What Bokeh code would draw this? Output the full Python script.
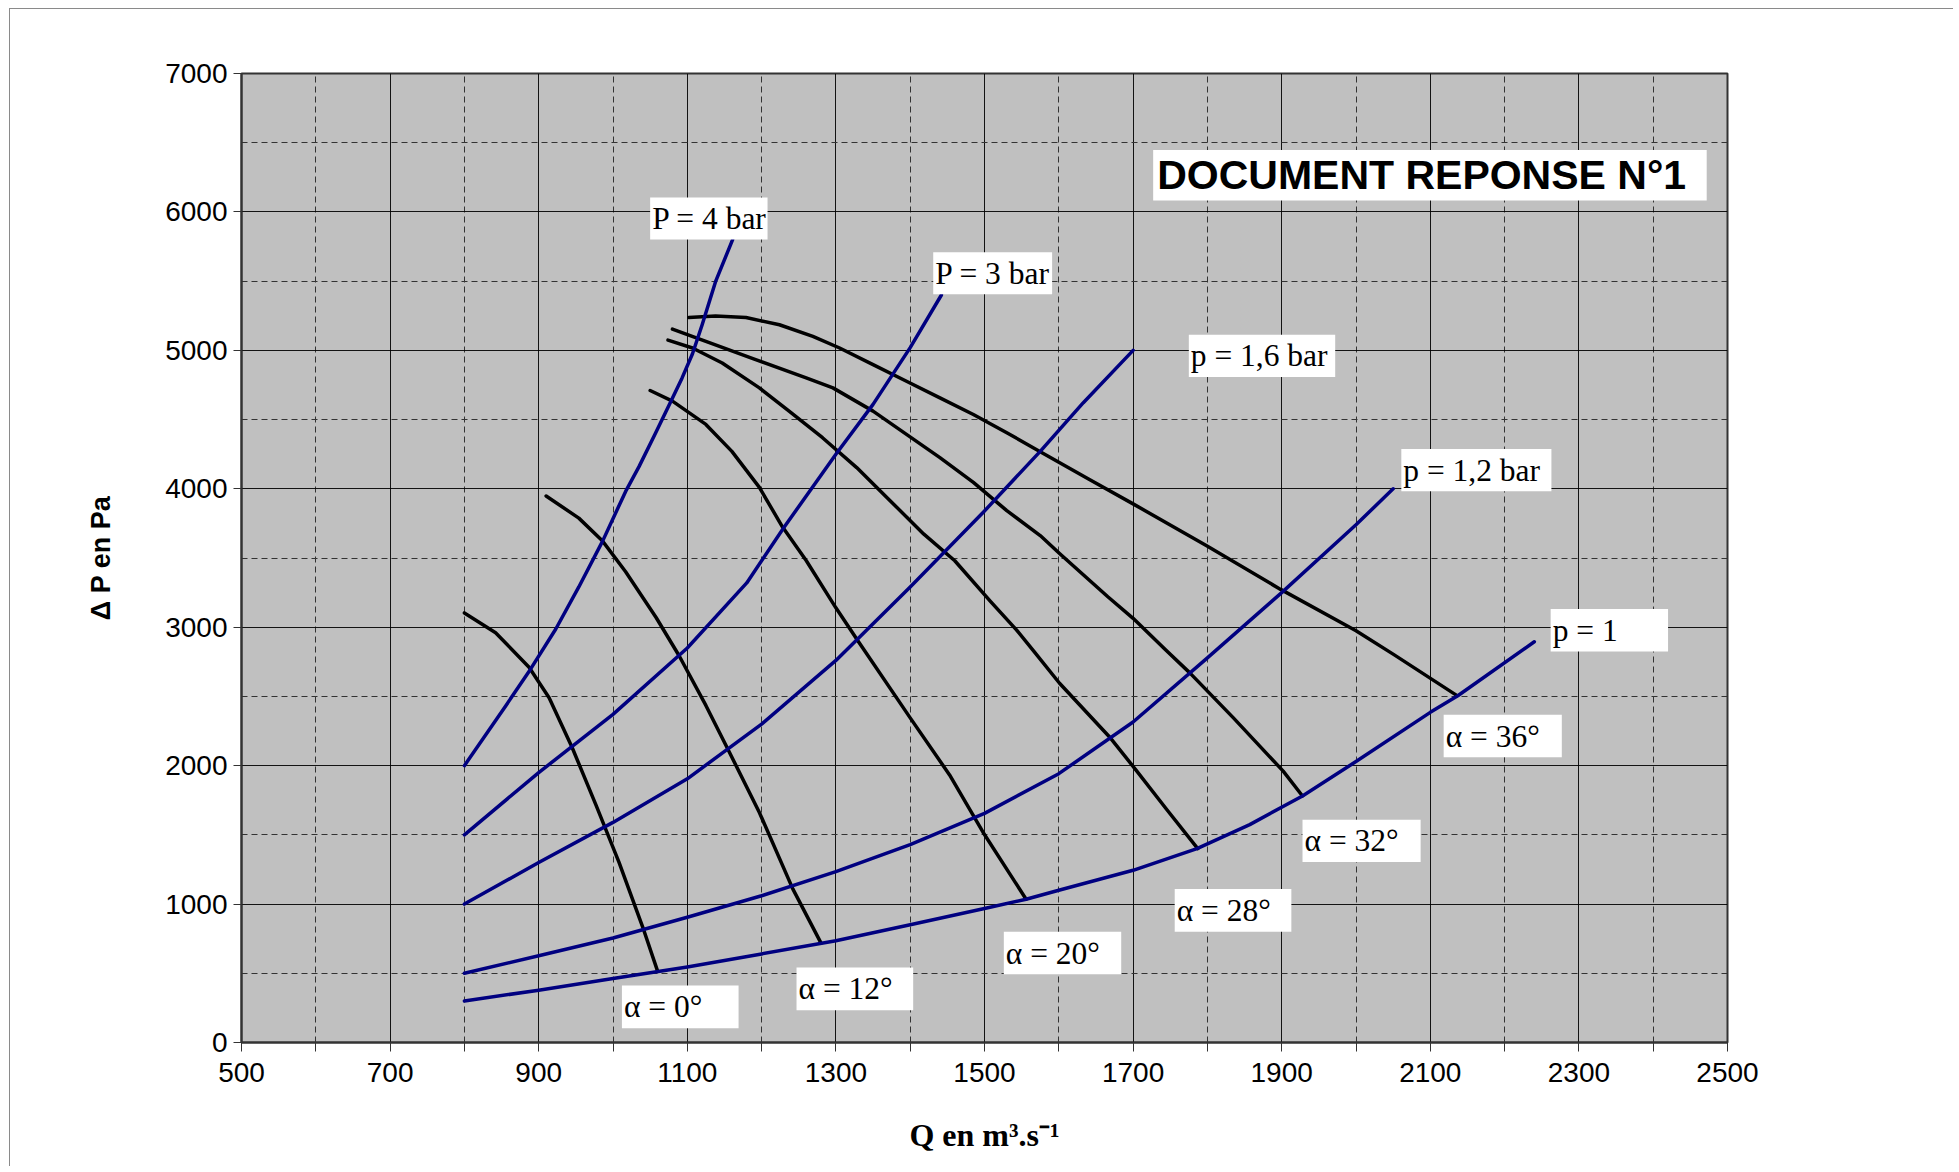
from bokeh.plotting import figure
from bokeh.models import Range1d, FixedTicker, Label, BoxAnnotation
from bokeh.embed import file_html
from bokeh.resources import INLINE

# ---------------- data ----------------
x_ticks = [500, 700, 900, 1100, 1300, 1500, 1700, 1900, 2100, 2300, 2500]
x_minor = [600, 800, 1000, 1200, 1400, 1600, 1800, 2000, 2200, 2400]
y_ticks = [0, 1000, 2000, 3000, 4000, 5000, 6000, 7000]
y_minor = [500, 1500, 2500, 3500, 4500, 5500, 6500]

# pressure curves (blue)
p4_q = [800, 856, 889, 923, 954, 986, 1017, 1035, 1057, 1078, 1093, 1107, 1120, 1138, 1161]
p4_dp = [2000, 2435, 2697, 2987, 3291, 3622, 3981, 4160, 4400, 4633, 4801, 4975, 5185, 5496, 5800]

p3_q = [800, 900, 1000, 1100, 1180, 1230, 1300, 1350, 1400, 1442]
p3_dp = [1500, 1950, 2370, 2850, 3320, 3720, 4250, 4610, 5020, 5400]

p16_q = [800, 900, 1000, 1100, 1200, 1300, 1400, 1500, 1575, 1633, 1700]
p16_dp = [1000, 1300, 1590, 1905, 2300, 2760, 3290, 3840, 4270, 4622, 5000]

p12_q = [800, 900, 1000, 1100, 1200, 1300, 1400, 1500, 1600, 1700, 1800, 1900, 2000, 2050]
p12_dp = [500, 627, 755, 905, 1060, 1235, 1430, 1655, 1942, 2315, 2779, 3250, 3740, 4000]

p1_q = [800, 900, 1000, 1100, 1200, 1300, 1400, 1500, 1556, 1600, 1700, 1786, 1857, 1928, 2000, 2100, 2137, 2240]
p1_dp = [300, 378, 462, 545, 640, 735, 850, 968, 1035, 1100, 1244, 1400, 1574, 1781, 2030, 2385, 2505, 2895]

# angle curves (black)
a0_q = [800, 842, 887, 914, 945, 977, 1008, 1040, 1060]
a0_dp = [3103, 2960, 2711, 2490, 2131, 1717, 1303, 834, 516]

a12_q = [910, 954, 986, 1017, 1058, 1089, 1125, 1156, 1197, 1242, 1280]
a12_dp = [3948, 3788, 3622, 3401, 3070, 2794, 2435, 2104, 1662, 1110, 718]

a20_q = [1050, 1080, 1125, 1160, 1197, 1228, 1260, 1300, 1330, 1400, 1453, 1498, 1556]
a20_dp = [4710, 4633, 4465, 4270, 4010, 3725, 3482, 3140, 2899, 2345, 1933, 1519, 1035]

a28_q = [1074, 1107, 1147, 1197, 1237, 1282, 1328, 1373, 1418, 1460, 1508, 1543, 1566, 1601, 1668, 1705, 1745, 1787]
a28_dp = [5074, 5017, 4909, 4729, 4561, 4369, 4153, 3914, 3674, 3480, 3187, 2981, 2829, 2595, 2209, 1961, 1685, 1400]

a32_q = [1080, 1125, 1192, 1260, 1296, 1350, 1395, 1440, 1485, 1530, 1575, 1601, 1666, 1700, 1744, 1776, 1835, 1902, 1928]
a32_dp = [5153, 5065, 4933, 4801, 4729, 4561, 4393, 4225, 4046, 3842, 3662, 3533, 3220, 3064, 2835, 2672, 2345, 1960, 1781]

a36_q = [1102, 1138, 1179, 1224, 1269, 1305, 1350, 1395, 1440, 1485, 1530, 1575, 1640, 1700, 1799, 1898, 2000, 2051, 2136]
a36_dp = [5237, 5249, 5237, 5185, 5101, 5017, 4897, 4777, 4657, 4537, 4405, 4268, 4070, 3891, 3588, 3275, 2975, 2802, 2506]

pressure_series = [(p4_q, p4_dp), (p3_q, p3_dp), (p16_q, p16_dp), (p12_q, p12_dp), (p1_q, p1_dp)]
angle_series = [(a0_q, a0_dp), (a12_q, a12_dp), (a20_q, a20_dp), (a28_q, a28_dp), (a32_q, a32_dp), (a36_q, a36_dp)]

# curve labels: text, white box (left, right, bottom, top); text sits at the box's left, vertically centred
curve_labels = [
    ("P = 4 bar", (1050, 1208, 5800, 6105)),
    ("P = 3 bar", (1431, 1591, 5405, 5708)),
    ("p = 1,6 bar", (1775, 1972, 4807, 5113)),
    ("p = 1,2 bar", (2061, 2263, 3983, 4288)),
    ("p = 1", (2262, 2420, 2824, 3132)),
    ("α = 36°", (2118, 2277, 2060, 2368)),
    ("α = 32°", (1928, 2087, 1304, 1610)),
    ("α = 28°", (1756, 1913, 800, 1108)),
    ("α = 20°", (1526, 1684, 493, 800)),
    ("α = 12°", (1247, 1404, 233, 541)),
    ("α = 0°", (1012, 1169, 103, 411)),
]
title_text = "DOCUMENT REPONSE N°1"
title_box = (1727, 2472, 6082, 6447)
x_title = "Q en m³.s⁻¹"
y_title = "Δ P en Pa"

# ---------------- figure ----------------
p = figure(
    frame_width=1486, frame_height=969,
    min_border_left=231, min_border_right=226, min_border_top=64, min_border_bottom=124,
    x_range=Range1d(500, 2500), y_range=Range1d(0, 7000),
    output_backend="svg", toolbar_location=None,
)
p.background_fill_color = "#C0C0C0"
p.border_fill_color = "white"
p.outline_line_color = "#333333"
p.outline_line_width = 2
p.styles = {"margin-left": "9px", "margin-top": "8px",
            "border-left": "1px solid #8a8a8a", "border-top": "1px solid #8a8a8a"}

xt = FixedTicker(ticks=x_ticks, minor_ticks=x_minor)
yt = FixedTicker(ticks=y_ticks, minor_ticks=y_minor)
p.xaxis.ticker = xt
p.yaxis.ticker = yt
p.xgrid.ticker = xt
p.ygrid.ticker = yt

for g in (p.xgrid, p.ygrid):
    g.grid_line_color = "black"
    g.grid_line_width = 1
    g.grid_line_alpha = 0.9
    g.minor_grid_line_color = "#333333"
    g.minor_grid_line_width = 1
    g.minor_grid_line_dash = "6 4"

for ax in (p.xaxis, p.yaxis):
    ax.axis_line_color = "#333333"
    ax.axis_line_width = 2
    ax.major_tick_line_color = "#333333"
    ax.minor_tick_line_color = "#333333"
    ax.major_tick_in = 0
    ax.minor_tick_in = 0
    ax.major_label_text_font = "Liberation Sans"
    ax.major_label_text_font_size = "28px"
    ax.major_label_text_color = "black"
    ax.axis_label_text_color = "black"

p.xaxis.major_tick_out = 9
p.xaxis.minor_tick_out = 9
p.xaxis.major_label_standoff = 11
p.yaxis.major_tick_out = 8
p.yaxis.minor_tick_out = 0
p.yaxis.major_label_standoff = 6

p.xaxis.axis_label = x_title
p.xaxis.axis_label_text_font = "Liberation Serif"
p.xaxis.axis_label_text_font_style = "bold"
p.xaxis.axis_label_text_font_size = "32px"
p.xaxis.axis_label_standoff = 32

p.yaxis.axis_label = y_title
p.yaxis.axis_label_text_font = "Liberation Sans"
p.yaxis.axis_label_text_font_style = "bold"
p.yaxis.axis_label_text_font_size = "27px"
p.yaxis.axis_label_standoff = 46

for q, dp in angle_series:
    p.line(q, dp, line_color="black", line_width=3.5, line_join="round", line_cap="round")
for q, dp in pressure_series:
    p.line(q, dp, line_color="#000080", line_width=3.5, line_join="round", line_cap="round")

for text, (l, r, b, t) in curve_labels:
    p.add_layout(BoxAnnotation(left=l, right=r, bottom=b, top=t,
                               fill_color="white", fill_alpha=1.0, line_color=None))
    p.add_layout(Label(x=l, y=(b + t) / 2, x_offset=2, text=text, text_font="Liberation Serif",
                       text_font_size="31.5px", text_color="black",
                       text_align="left", text_baseline="middle"))

l, r, b, t = title_box
p.add_layout(BoxAnnotation(left=l, right=r, bottom=b, top=t,
                           fill_color="white", fill_alpha=1.0, line_color=None))
p.add_layout(Label(x=l, y=(b + t) / 2, x_offset=4, text=title_text, text_font="Liberation Sans",
                   text_font_style="bold", text_font_size="41px", text_color="black",
                   text_align="left", text_baseline="middle"))

open("out.html", "w").write(file_html(p, INLINE))
